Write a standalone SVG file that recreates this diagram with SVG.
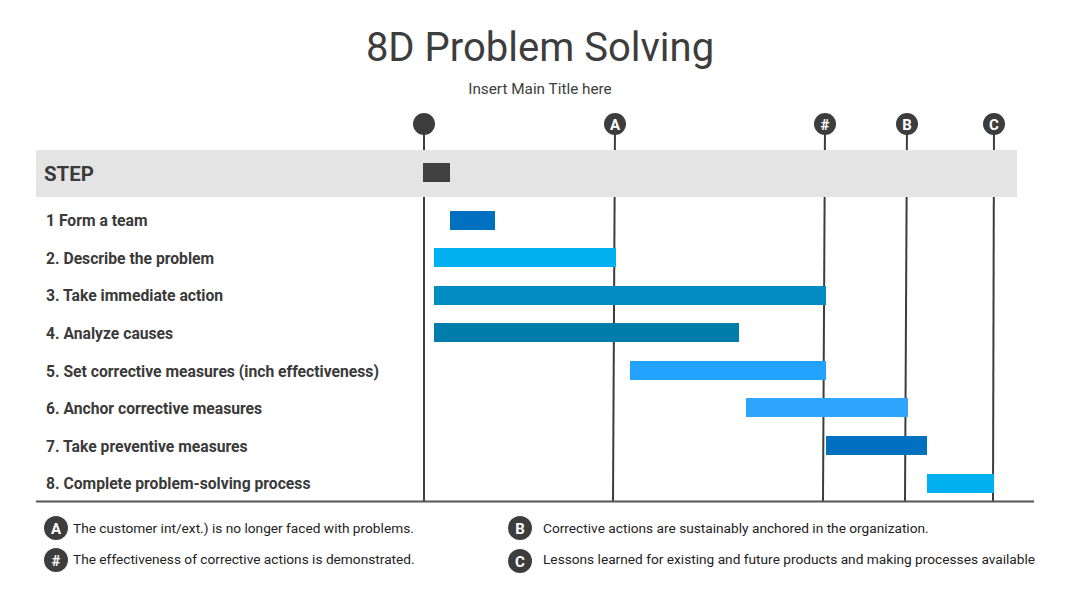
<svg xmlns="http://www.w3.org/2000/svg" width="1080" height="608" viewBox="0 0 1080 608">
<style>
.title{font-family:Roboto,"Liberation Sans",sans-serif;font-size:40px;fill:#3d3d3d;text-anchor:middle}
.sub{font-family:Roboto,"Liberation Sans",sans-serif;font-size:15.3px;fill:#3d3d3d;text-anchor:middle}
.lbl{font-family:Roboto,"Liberation Sans",sans-serif;font-size:15.7px;font-weight:bold;fill:#3a3a3a}
.step{font-family:Roboto,"Liberation Sans",sans-serif;font-size:20.5px;font-weight:bold;fill:#3a3a3a}
.leg{font-family:Roboto,"Liberation Sans",sans-serif;font-size:13.7px;fill:#222}
.mk{fill:#3d3d3d}
.mkt{font-family:Roboto,"Liberation Sans",sans-serif;font-size:15px;font-weight:bold;fill:#fff;text-anchor:middle}
.vl{stroke:#3d3d3d;stroke-width:2}
</style>
<rect width="1080" height="608" fill="#fff"/>
<text class="title" x="540" y="61">8D Problem Solving</text>
<text class="sub" x="540" y="94">Insert Main Title here</text>

<g id="connectors">
<line class="vl" x1="424" y1="124" x2="424" y2="501"/>
<line class="vl" x1="615" y1="124" x2="613" y2="501"/>
<line class="vl" x1="825" y1="124" x2="823" y2="501"/>
<line class="vl" x1="907" y1="124" x2="905" y2="501"/>
<line class="vl" x1="994" y1="124" x2="993" y2="501"/>
<line x1="36" y1="501.5" x2="1034" y2="501.5" stroke="#555" stroke-width="2"/>
</g>

<g id="markers">
<g id="m0"><circle class="mk" cx="424" cy="124" r="11"/></g>
<g id="mA"><circle class="mk" cx="615" cy="124" r="11"/><text class="mkt" x="615" y="129.5">A</text></g>
<g id="mH"><circle class="mk" cx="825" cy="124" r="11"/><text class="mkt" x="825" y="129.5">#</text></g>
<g id="mB"><circle class="mk" cx="907" cy="124" r="11"/><text class="mkt" x="907" y="129.5">B</text></g>
<g id="mC"><circle class="mk" cx="994" cy="124" r="11"/><text class="mkt" x="994" y="129.5">C</text></g>
</g>

<g id="header">
<rect x="36" y="150" width="981" height="47" fill="#e4e4e4"/>
<text class="step" x="44" y="181">STEP</text>
<rect x="423" y="163" width="27" height="19" fill="#404040"/>
</g>

<g id="row1"><text class="lbl" x="46" y="226">1 Form a team</text><rect x="450" y="211" width="45" height="19" fill="#0070c0"/></g>
<g id="row2"><text class="lbl" x="46" y="264">2. Describe the problem</text><rect x="434" y="248" width="182" height="19" fill="#00b0f0"/></g>
<g id="row3"><text class="lbl" x="46" y="301">3. Take immediate action</text><rect x="434" y="286" width="392" height="19" fill="#028cc4"/></g>
<g id="row4"><text class="lbl" x="46" y="339">4. Analyze causes</text><rect x="434" y="323" width="305" height="19" fill="#017dac"/></g>
<g id="row5"><text class="lbl" x="46" y="377">5. Set corrective measures (inch effectiveness)</text><rect x="630" y="361" width="196" height="19" fill="#23a2ff"/></g>
<g id="row6"><text class="lbl" x="46" y="414">6. Anchor corrective measures</text><rect x="746" y="398" width="162" height="19" fill="#2ea6ff"/></g>
<g id="row7"><text class="lbl" x="46" y="452">7. Take preventive measures</text><rect x="826" y="436" width="101" height="19" fill="#0070c0"/></g>
<g id="row8"><text class="lbl" x="46" y="489">8. Complete problem-solving process</text><rect x="927" y="474" width="67" height="19" fill="#00b0f0"/></g>

<g id="legend">
<g id="legA"><circle class="mk" cx="56" cy="528" r="12"/><text class="mkt" x="56" y="533.5">A</text><text class="leg" x="73" y="533">The customer int/ext.) is no longer faced with problems.</text></g>
<g id="legH"><circle class="mk" cx="56" cy="560" r="12"/><text class="mkt" x="56" y="565.5">#</text><text class="leg" x="73" y="564">The effectiveness of corrective actions is demonstrated.</text></g>
<g id="legB"><circle class="mk" cx="520" cy="528" r="12"/><text class="mkt" x="520" y="533.5">B</text><text class="leg" x="543" y="533">Corrective actions are sustainably anchored in the organization.</text></g>
<g id="legC"><circle class="mk" cx="520" cy="561" r="12"/><text class="mkt" x="520" y="566.5">C</text><text class="leg" x="543" y="564">Lessons learned for existing and future products and making processes available</text></g>
</g>
</svg>
